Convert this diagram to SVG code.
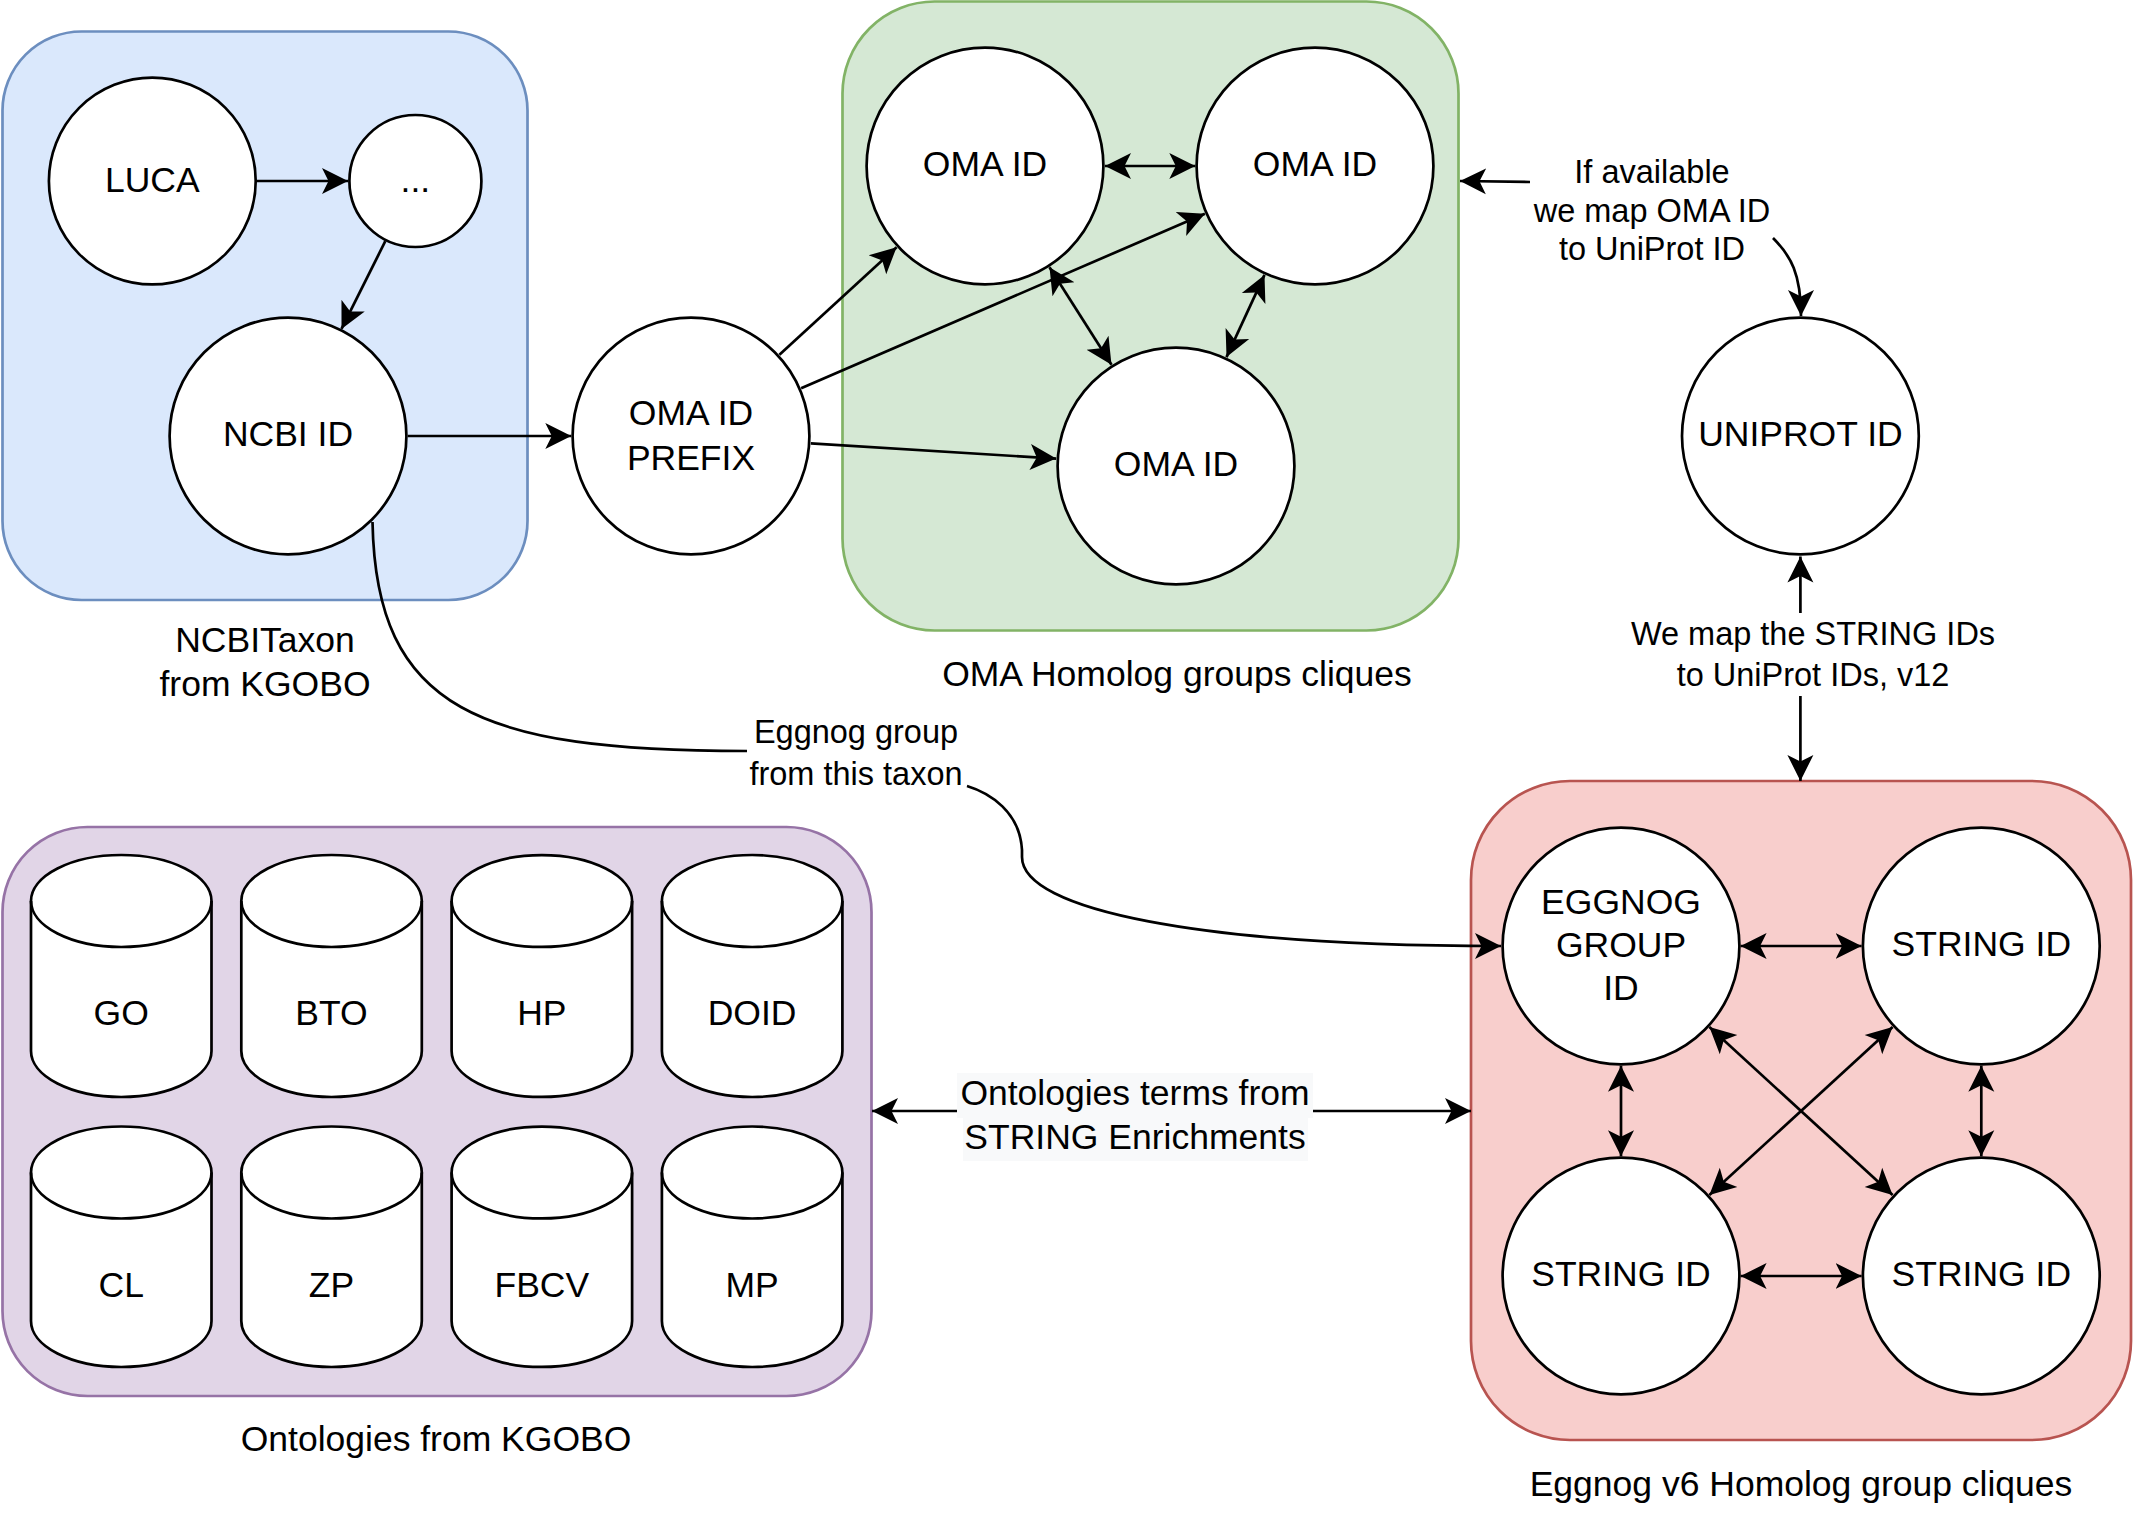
<svg xmlns="http://www.w3.org/2000/svg" width="2133" height="1533" viewBox="0 0 2133 1533">
<defs>
<style>
.node{fill:#fff;stroke:#000;stroke-width:2.7}
.edge{fill:none;stroke:#000;stroke-width:2.7}
.t{font-family:"Liberation Sans",Arial,Helvetica,sans-serif;font-size:35.5px;fill:#000;text-anchor:middle}
.s{font-family:"Liberation Sans",Arial,Helvetica,sans-serif;font-size:32.5px;fill:#000;text-anchor:middle}
</style>
<marker id="arr" viewBox="0 0 28 28" refX="26" refY="14" markerWidth="28" markerHeight="28" markerUnits="userSpaceOnUse" orient="auto-start-reverse">
<path d="M26 14 L0 1 L6.5 14 L0 27 Z" fill="#000"/>
</marker>
</defs>
<rect width="2133" height="1533" fill="#fff"/>

<g id="group-ncbi">
<rect x="2.5" y="31.5" width="525" height="568.5" rx="79" ry="79" fill="#dae8fc" stroke="#6c8ebf" stroke-width="2.7"/>
<text class="t" x="265" y="652">NCBITaxon</text>
<text class="t" x="265" y="696">from KGOBO</text>
</g>
<g id="group-oma">
<rect x="842.5" y="1.5" width="616" height="629" rx="92" ry="92" fill="#d5e8d4" stroke="#82b366" stroke-width="2.7"/>
<text class="t" x="1177" y="686">OMA Homolog groups cliques</text>
</g>
<g id="group-ontologies">
<rect x="2.5" y="827" width="869" height="569" rx="85" ry="85" fill="#e1d5e7" stroke="#9673a6" stroke-width="2.7"/>
<text class="t" x="436" y="1451">Ontologies from KGOBO</text>
</g>
<g id="group-eggnog">
<rect x="1471" y="781" width="660" height="659" rx="99" ry="99" fill="#f8cecc" stroke="#b85450" stroke-width="2.7"/>
<text class="t" x="1801" y="1496">Eggnog v6 Homolog group cliques</text>
</g>

<g id="connectors">
<line class="edge" x1="257" y1="181" x2="348" y2="181" marker-end="url(#arr)"/>
<line class="edge" x1="385.3" y1="241.2" x2="341.5" y2="328.9" marker-end="url(#arr)"/>
<line class="edge" x1="407.7" y1="436" x2="571.3" y2="436" marker-end="url(#arr)"/>
<line class="edge" x1="779.4" y1="354.8" x2="896.6" y2="247.2" marker-end="url(#arr)"/>
<line class="edge" x1="801.1" y1="388.3" x2="1204.9" y2="213.7" marker-end="url(#arr)"/>
<line class="edge" x1="810.8" y1="443.4" x2="1056.2" y2="458.6" marker-end="url(#arr)"/>
<line class="edge" x1="1105" y1="166" x2="1195.3" y2="166" marker-start="url(#arr)" marker-end="url(#arr)"/>
<line class="edge" x1="1049.5" y1="267.3" x2="1111.5" y2="364.7" marker-start="url(#arr)" marker-end="url(#arr)"/>
<line class="edge" x1="1264.5" y1="274.9" x2="1226.5" y2="357.1" marker-start="url(#arr)" marker-end="url(#arr)"/>
<path class="edge" d="M1530 182 L1460 181" marker-end="url(#arr)"/>
<path class="edge" d="M1773 238 C1791 256 1801 274 1801 316" marker-end="url(#arr)"/>
<line class="edge" x1="1800.4" y1="613" x2="1800.4" y2="556.5" marker-end="url(#arr)"/>
<line class="edge" x1="1800.4" y1="696" x2="1800.4" y2="781" marker-end="url(#arr)"/>
<path class="edge" d="M372.5 522 C376 710 480 751 747 751"/>
<path class="edge" d="M967 786 C990 793 1020 812 1022 850 L1022 857 C1022 910 1200 946 1501 946" marker-end="url(#arr)"/>
<line class="edge" x1="957" y1="1111" x2="872" y2="1111" marker-end="url(#arr)"/>
<line class="edge" x1="1313" y1="1111" x2="1471" y2="1111" marker-end="url(#arr)"/>
<line class="edge" x1="1740.6" y1="946" x2="1861.6" y2="946" marker-start="url(#arr)" marker-end="url(#arr)"/>
<line class="edge" x1="1621" y1="1065.7" x2="1621" y2="1156.3" marker-start="url(#arr)" marker-end="url(#arr)"/>
<line class="edge" x1="1981.3" y1="1065.7" x2="1981.3" y2="1156.3" marker-start="url(#arr)" marker-end="url(#arr)"/>
<line class="edge" x1="1740.6" y1="1276" x2="1861.6" y2="1276" marker-start="url(#arr)" marker-end="url(#arr)"/>
<line class="edge" x1="1709.4" y1="1027.1" x2="1892.6" y2="1194.9" marker-start="url(#arr)" marker-end="url(#arr)"/>
<line class="edge" x1="1892.6" y1="1027.1" x2="1709.4" y2="1194.9" marker-start="url(#arr)" marker-end="url(#arr)"/>
<text class="s" x="1652" y="183">If available</text>
<text class="s" x="1652" y="222">we map OMA ID</text>
<text class="s" x="1652" y="260">to UniProt ID</text>
<text class="s" x="1813" y="645">We map the STRING IDs</text>
<text class="s" x="1813" y="686">to UniProt IDs, v12</text>
<text class="s" x="856" y="743">Eggnog group</text>
<text class="s" x="856" y="785">from this taxon</text>
<rect x="957" y="1073" width="356" height="45" fill="#f8f9fa"/>
<rect x="963" y="1118" width="345" height="43" fill="#f8f9fa"/>
<text class="t" x="1135" y="1105">Ontologies terms from</text>
<text class="t" x="1135" y="1149">STRING Enrichments</text>
</g>

<g id="node-luca"><circle class="node" cx="152.3" cy="181" r="103.4"/><text class="t" x="152.3" y="191.5">LUCA</text></g>
<g id="node-dots"><circle class="node" cx="415.4" cy="181" r="66"/><text class="t" x="415.4" y="192">...</text></g>
<g id="node-ncbi"><circle class="node" cx="288" cy="436" r="118.4"/><text class="t" x="288" y="446">NCBI ID</text></g>
<g id="node-prefix"><circle class="node" cx="691" cy="436" r="118.4"/><text class="t" x="691" y="425">OMA ID</text><text class="t" x="691" y="469.5">PREFIX</text></g>
<g id="node-oma1"><circle class="node" cx="985" cy="166" r="118.4"/><text class="t" x="985" y="176">OMA ID</text></g>
<g id="node-oma2"><circle class="node" cx="1315" cy="166" r="118.4"/><text class="t" x="1315" y="176">OMA ID</text></g>
<g id="node-oma3"><circle class="node" cx="1176" cy="466" r="118.4"/><text class="t" x="1176" y="476">OMA ID</text></g>
<g id="node-uniprot"><circle class="node" cx="1800.4" cy="436" r="118.4"/><text class="t" x="1800.4" y="446">UNIPROT ID</text></g>
<g id="node-eggnog"><circle class="node" cx="1621" cy="946" r="118.4"/><text class="t" x="1621" y="914">EGGNOG</text><text class="t" x="1621" y="957">GROUP</text><text class="t" x="1621" y="1000">ID</text></g>
<g id="node-string-tr"><circle class="node" cx="1981.3" cy="946" r="118.4"/><text class="t" x="1981.3" y="956">STRING ID</text></g>
<g id="node-string-bl"><circle class="node" cx="1621" cy="1276" r="118.4"/><text class="t" x="1621" y="1286">STRING ID</text></g>
<g id="node-string-br"><circle class="node" cx="1981.3" cy="1276" r="118.4"/><text class="t" x="1981.3" y="1286">STRING ID</text></g>

<g id="cylinders">
<g id="cyl-go"><path class="node" d="M31 901 A90.25 46 0 0 1 211.5 901 V1051 A90.25 46 0 0 1 31 1051 Z"/><path class="edge" d="M31 901 A90.25 46 0 0 0 211.5 901"/><text class="t" x="121.2" y="1025">GO</text></g>
<g id="cyl-bto"><path class="node" d="M241.3 901 A90.25 46 0 0 1 421.8 901 V1051 A90.25 46 0 0 1 241.3 1051 Z"/><path class="edge" d="M241.3 901 A90.25 46 0 0 0 421.8 901"/><text class="t" x="331.5" y="1025">BTO</text></g>
<g id="cyl-hp"><path class="node" d="M451.6 901 A90.25 46 0 0 1 632.1 901 V1051 A90.25 46 0 0 1 451.6 1051 Z"/><path class="edge" d="M451.6 901 A90.25 46 0 0 0 632.1 901"/><text class="t" x="541.8" y="1025">HP</text></g>
<g id="cyl-doid"><path class="node" d="M661.9 901 A90.25 46 0 0 1 842.4 901 V1051 A90.25 46 0 0 1 661.9 1051 Z"/><path class="edge" d="M661.9 901 A90.25 46 0 0 0 842.4 901"/><text class="t" x="752.1" y="1025">DOID</text></g>
<g id="cyl-cl"><path class="node" d="M31 1172.5 A90.25 46 0 0 1 211.5 1172.5 V1321 A90.25 46 0 0 1 31 1321 Z"/><path class="edge" d="M31 1172.5 A90.25 46 0 0 0 211.5 1172.5"/><text class="t" x="121.2" y="1297">CL</text></g>
<g id="cyl-zp"><path class="node" d="M241.3 1172.5 A90.25 46 0 0 1 421.8 1172.5 V1321 A90.25 46 0 0 1 241.3 1321 Z"/><path class="edge" d="M241.3 1172.5 A90.25 46 0 0 0 421.8 1172.5"/><text class="t" x="331.5" y="1297">ZP</text></g>
<g id="cyl-fbcv"><path class="node" d="M451.6 1172.5 A90.25 46 0 0 1 632.1 1172.5 V1321 A90.25 46 0 0 1 451.6 1321 Z"/><path class="edge" d="M451.6 1172.5 A90.25 46 0 0 0 632.1 1172.5"/><text class="t" x="541.8" y="1297">FBCV</text></g>
<g id="cyl-mp"><path class="node" d="M661.9 1172.5 A90.25 46 0 0 1 842.4 1172.5 V1321 A90.25 46 0 0 1 661.9 1321 Z"/><path class="edge" d="M661.9 1172.5 A90.25 46 0 0 0 842.4 1172.5"/><text class="t" x="752.1" y="1297">MP</text></g>
</g>
</svg>
